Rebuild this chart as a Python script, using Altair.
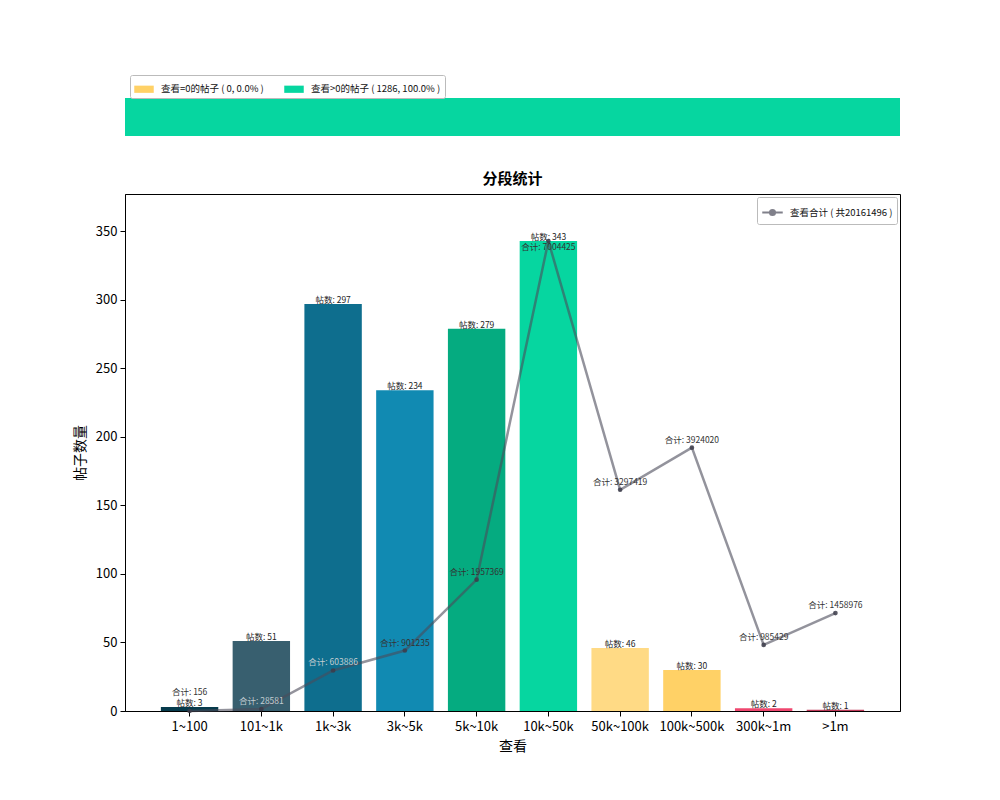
import altair as alt
import pandas as pd

FONT = "Noto Sans CJK SC"

# ---- data ----
categories = ["1~100", "101~1k", "1k~3k", "3k~5k", "5k~10k", "10k~50k",
              "50k~100k", "100k~500k", "300k~1m", ">1m"]
post_counts = [3, 51, 297, 234, 279, 343, 46, 30, 2, 1]
view_totals = [156, 28581, 603886, 901235, 1957369, 7004425,
               3297419, 3924020, 985429, 1458976]
bar_colors = ["#073b4c", "#385f6f", "#0e6e8e", "#118ab2", "#05ab80", "#06d6a0",
              "#ffda85", "#ffd166", "#ef476f", "#bf3959"]

top_names = ["查看=0的帖子", "查看>0的帖子"]
top_values = [0, sum(post_counts)]
top_colors = ["#ffd166", "#06d6a0"]

light_label_cats = ["101~1k", "1k~3k"]

# ---- tables ----
df = pd.DataFrame({"cat": categories, "count": post_counts, "total": view_totals})
grand_total = sum(view_totals)
line_name = f"查看合计 ( 共{grand_total} )"
df["series"] = line_name

n_all = sum(top_values)
top_labels = [f"{n} ( {v}, {v / n_all * 100:.1f}% )" for n, v in zip(top_names, top_values)]
top_df = pd.DataFrame({"name": top_labels, "value": top_values})
top_df["x1"] = top_df["value"].cumsum()
top_df["x0"] = top_df["x1"] - top_df["value"]

# ---- top ratio bar ----
top = alt.Chart(top_df).mark_rect().encode(
    x=alt.X("x0:Q", scale=alt.Scale(domain=[0, n_all], nice=False, zero=True), axis=None),
    x2="x1:Q",
    fill=alt.Fill(
        "name:N",
        scale=alt.Scale(domain=top_labels, range=top_colors),
        legend=alt.Legend(
            title=None, orient="none", legendX=5, legendY=-23, direction="horizontal",
            fillColor="white", strokeColor="#bbbbbb", cornerRadius=2, padding=4,
            labelFont=FONT, labelFontSize=9.5, labelColor="#111111",
            symbolType="M-1,-0.37H1V0.37H-1Z", symbolSize=380, symbolStrokeWidth=0,
            columnPadding=20, symbolOffset=0, labelOffset=7,
        ),
    ),
).properties(width=775, height=38, view=alt.ViewBackground(stroke="transparent"))

# ---- main chart ----
x_enc = alt.X("cat:N", sort=categories, title="查看",
              scale=alt.Scale(paddingInner=0.2, paddingOuter=0.5),
              axis=alt.Axis(labelAngle=0, labelFontSize=13, labelFont=FONT, labelColor="black",
                            titleFont=FONT, titleFontSize=14, titleFontWeight="normal",
                            titleColor="black", titlePadding=6, labelPadding=4,
                            tickSize=5, tickColor="black", domainColor="black"))

y_bar = alt.Y("count:Q", title="帖子数量",
              scale=alt.Scale(domain=[0, max(post_counts) * 1.1], nice=False),
              axis=alt.Axis(values=list(range(0, 351, 50)), grid=False, labelFontSize=13,
                            labelFont=FONT, labelColor="black", titleFont=FONT,
                            titleFontSize=14, titleFontWeight="normal", titleColor="black",
                            titlePadding=8, labelPadding=3, tickSize=5, tickColor="black",
                            domainColor="black"))

bars = alt.Chart(df).mark_bar().encode(
    x=x_enc,
    y=y_bar,
    color=alt.Color("cat:N", scale=alt.Scale(domain=categories, range=bar_colors), legend=None),
)

bar_text = alt.Chart(df).transform_calculate(
    lab="'帖数: ' + datum.count"
).mark_text(font=FONT, fontSize=8.5, baseline="bottom", dy=1, color="#222222").encode(
    x=alt.X("cat:N", sort=categories),
    y="count:Q",
    text="lab:N",
)

left = alt.layer(bars, bar_text)

y_line = alt.Y("total:Q", scale=alt.Scale(domain=[0, max(view_totals) * 1.1], nice=False),
               axis=None)

line = alt.Chart(df).mark_line(strokeWidth=2.5, opacity=0.6).encode(
    x=alt.X("cat:N", sort=categories),
    y=y_line,
    stroke=alt.Stroke(
        "series:N", scale=alt.Scale(range=["#4b4b5a"]),
        legend=alt.Legend(
            title=None, orient="top-right", offset=3, fillColor="white",
            strokeColor="#bbbbbb", cornerRadius=2, padding=4,
            labelFont=FONT, labelFontSize=9.5, labelColor="#111111",
            symbolType="M-1,0H1M-0.25,0A0.25,0.25,0,1,1,0.25,0A0.25,0.25,0,1,1,-0.25,0Z",
            symbolSize=420, symbolStrokeWidth=2, symbolFillColor="#4b4b5a",
            symbolStrokeColor="#4b4b5a", symbolOpacity=0.7, labelOffset=6,
        ),
    ),
)

points = alt.Chart(df).mark_circle(size=22, color="#3c3c4a", opacity=0.85).encode(
    x=alt.X("cat:N", sort=categories),
    y="total:Q",
)

label_color = alt.condition(
    alt.FieldOneOfPredicate(field="cat", oneOf=light_label_cats),
    alt.value("#c3cdd1"), alt.value("#333333"))

tot_base = alt.Chart(df).transform_calculate(lab="'合计: ' + datum.total")

tot_normal = tot_base.transform_filter(
    alt.FieldOneOfPredicate(field="cat", oneOf=[c for c in categories if c not in ("1~100", "10k~50k")])
).mark_text(font=FONT, fontSize=8.5, baseline="bottom", dy=-3).encode(
    x=alt.X("cat:N", sort=categories), y="total:Q", text="lab:N", color=label_color)

tot_first = tot_base.transform_filter(
    alt.FieldEqualPredicate(field="cat", equal="1~100")
).mark_text(font=FONT, fontSize=8.5, baseline="bottom", dy=-14).encode(
    x=alt.X("cat:N", sort=categories), y="total:Q", text="lab:N", color=label_color)

tot_peak = tot_base.transform_filter(
    alt.FieldEqualPredicate(field="cat", equal="10k~50k")
).mark_text(font=FONT, fontSize=8.5, baseline="top", dy=2).encode(
    x=alt.X("cat:N", sort=categories), y="total:Q", text="lab:N", color=label_color)

right = alt.layer(line, points, tot_normal, tot_first, tot_peak)

main = alt.layer(left, right).resolve_scale(y="independent").properties(
    width=775, height=517,
    view=alt.ViewBackground(stroke="black", strokeWidth=1),
    title=alt.TitleParams("分段统计", font=FONT, fontSize=15, fontWeight="bold",
                          color="black", anchor="middle", offset=7),
)

chart = alt.vconcat(top, main, spacing=58, bounds="flush").resolve_scale(
    color="independent", fill="independent", stroke="independent"
).resolve_legend(
    color="independent", fill="independent", stroke="independent"
).properties(
    padding={"left": 64, "top": 66, "right": 10, "bottom": 10}
).configure_view(stroke="black", strokeWidth=1).configure(font=FONT)

chart.save("out.html", embed_options={"renderer": "svg", "actions": False})
